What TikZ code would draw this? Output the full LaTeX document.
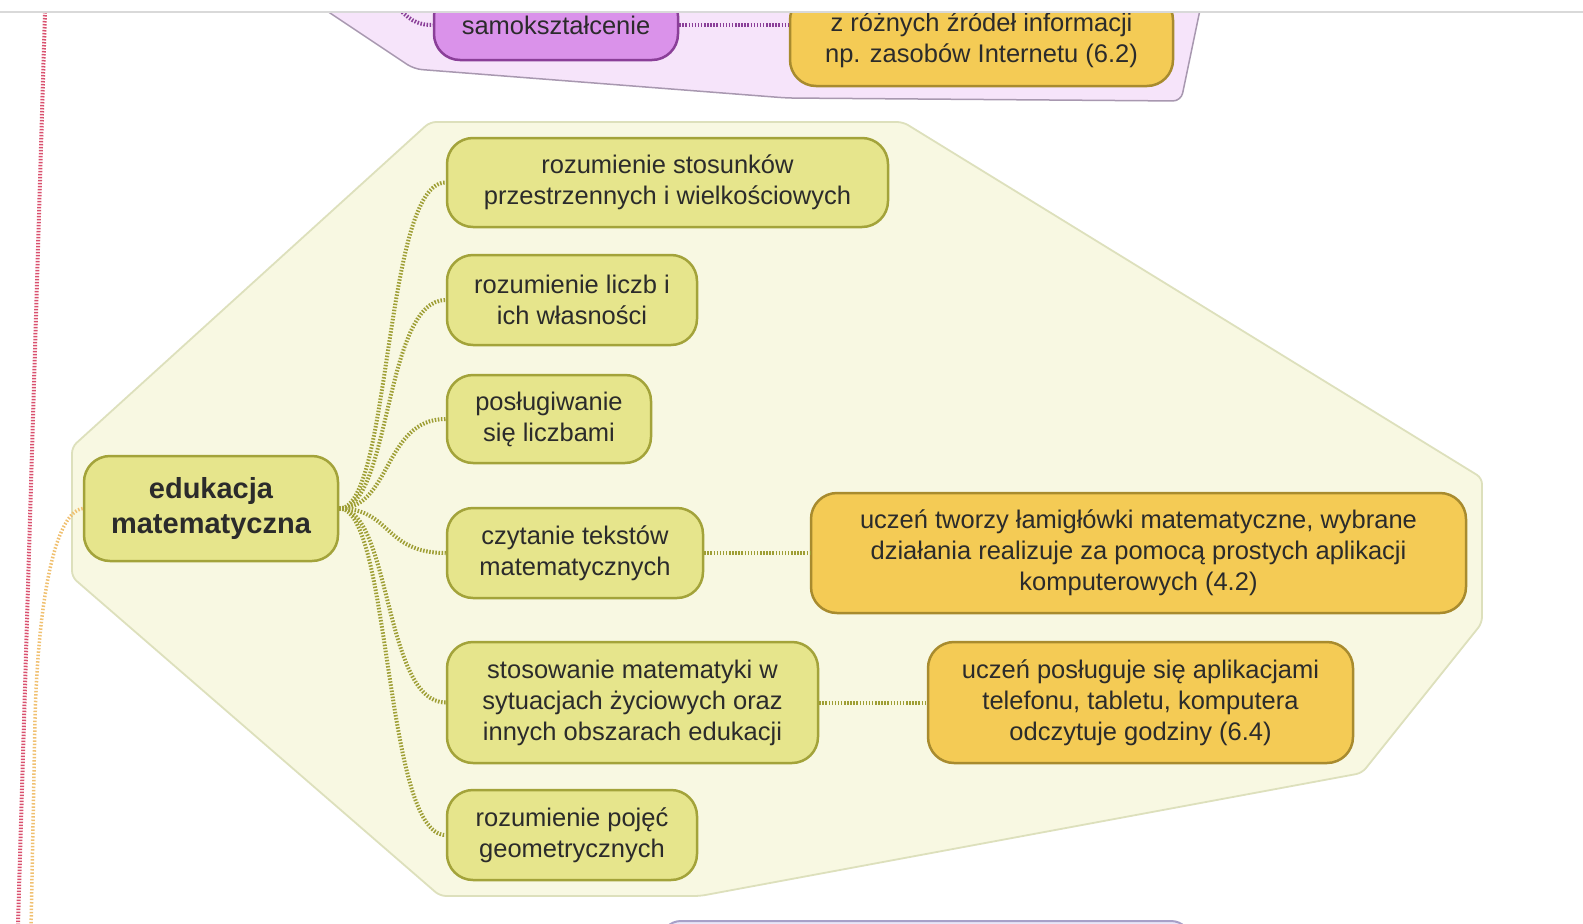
\documentclass[tikz,border=0pt]{standalone}
\usepackage{fontspec}
\setmainfont{Liberation Sans}
\definecolor{gfill}{HTML}{E6E58C}
\definecolor{gdraw}{HTML}{A3A33A}
\definecolor{ofill}{HTML}{F4CB55}
\definecolor{odraw}{HTML}{A88B2E}
\definecolor{hexfill}{HTML}{F8F8E2}
\definecolor{hexdraw}{HTML}{DDE0BC}
\definecolor{purfill}{HTML}{F6E4FA}
\definecolor{purdraw}{HTML}{A898B0}
\definecolor{pnfill}{HTML}{DA92EA}
\definecolor{pndraw}{HTML}{8A3F98}
\definecolor{txt}{HTML}{2B2B2B}
\definecolor{connc}{HTML}{9E9E34}
\definecolor{pinkc}{HTML}{D9506E}
\definecolor{orangec}{HTML}{F0C070}
\definecolor{lavfill}{HTML}{E9E6F8}
\definecolor{lavdraw}{HTML}{A8A0C8}
\begin{document}
\begin{tikzpicture}[x=1pt,y=-1pt,
  base/.style={line width=2.5pt, rounded corners=26pt, align=center, text=txt, inner sep=0pt,
    font=\fontsize{25.5}{31}\selectfont},
  gnode/.style={base, draw=gdraw, fill=gfill},
  onode/.style={base, draw=odraw, fill=ofill},
  pnode/.style={base, draw=pndraw, fill=pnfill},
  conn/.style={draw=connc, line width=4pt, dash pattern=on 1.5pt off 1.6pt},
  pconn/.style={draw=pndraw, line width=4pt, dash pattern=on 1.5pt off 1.6pt},
]
\useasboundingbox (0,0) rectangle (1583,924);
\fill[white] (0,0) rectangle (1583,924);
\begin{scope}
\clip (0,12) rectangle (1583,924);
% purple region
\filldraw[fill=purfill, draw=purdraw, line width=1.5pt, rounded corners=8pt]
  (318,5) -- (414,69) -- (787,98) -- (1181,101) -- (1201,5) -- cycle;
% large yellow boundary
\filldraw[fill=hexfill, draw=hexdraw, line width=1.8pt, rounded corners=6pt]
  (430,122) -- (903,122) -- (1482,478) -- (1482,623) -- (1362,773) -- (700,896)
  -- (440,896) -- (72,577) -- (72,447) -- cycle;
% left guide lines
\coordinate (pk1) at (45,12);
\coordinate (pk2) at (18,924);
\draw[pinkc, line width=4pt, dash pattern=on 1.5pt off 1.5pt] (pk1) -- (pk2);
% nodes
\node[pnode, minimum width=244pt, minimum height=70pt] (samo) at (556,25) {samokształcenie};
\node[onode, minimum width=383pt, minimum height=92pt] (zrod) at (981.5,40) {z różnych źródeł informacji\\np. zasobów Internetu (6.2)};
\node[gnode, minimum width=254pt, minimum height=105pt, font=\bfseries\fontsize{29}{35}\selectfont] (cen) at (211,508.5) {edukacja\\matematyczna};
\node[gnode, minimum width=441pt, minimum height=89pt] (k1) at (667.5,182.5) {rozumienie stosunków\\przestrzennych i wielkościowych};
\node[gnode, minimum width=250pt, minimum height=90pt] (k2) at (572,300) {rozumienie liczb i\\ich własności};
\node[gnode, minimum width=204pt, minimum height=88pt] (k3) at (549,419) {posługiwanie\\się liczbami};
\node[gnode, minimum width=256pt, minimum height=90pt] (k4) at (575,553) {czytanie tekstów\\matematycznych};
\node[gnode, minimum width=371pt, minimum height=121pt] (k5) at (632.5,702.5) {stosowanie matematyki w\\sytuacjach życiowych oraz\\innych obszarach edukacji};
\node[gnode, minimum width=250pt, minimum height=90pt] (k6) at (572,835) {rozumienie pojęć\\geometrycznych};
\node[onode, minimum width=655pt, minimum height=120pt] (g1) at (1138.5,553) {uczeń tworzy łamigłówki matematyczne, wybrane\\działania realizuje za pomocą prostych aplikacji\\komputerowych (4.2)};
\node[onode, minimum width=425pt, minimum height=121pt] (g2) at (1140.5,702.5) {uczeń posługuje się aplikacjami\\telefonu, tabletu, komputera\\odczytuje godziny (6.4)};
\node[draw=lavdraw, fill=lavfill, line width=2pt, rounded corners=20pt, minimum width=530pt, minimum height=60pt] (bot) at (926,951) {};
% connectors
\coordinate (ptop) at (400,10);
\draw[pconn] (ptop) .. controls (412,22) and (420,25) .. (samo.west);
\draw[pconn] (samo.east) -- (zrod.west |- samo.east);
\foreach \k in {k1,k2,k3,k4,k5,k6}{
  \draw[conn] (cen.east) .. controls +(52,0) and +(-62,0) .. (\k.west);
}
\draw[conn] (k4.east) -- (g1.west);
\draw[conn] (k5.east) -- (g2.west);
\coordinate (oy) at (31,930);
\draw[orangec, line width=3.5pt, dash pattern=on 1.5pt off 1.8pt] (cen.west) .. controls (55,512) and (38,600) .. (35,720) -- (oy);
\end{scope}
\draw[black!15, line width=1.2pt] (0,12) -- (1583,12);
\end{tikzpicture}
\end{document}
